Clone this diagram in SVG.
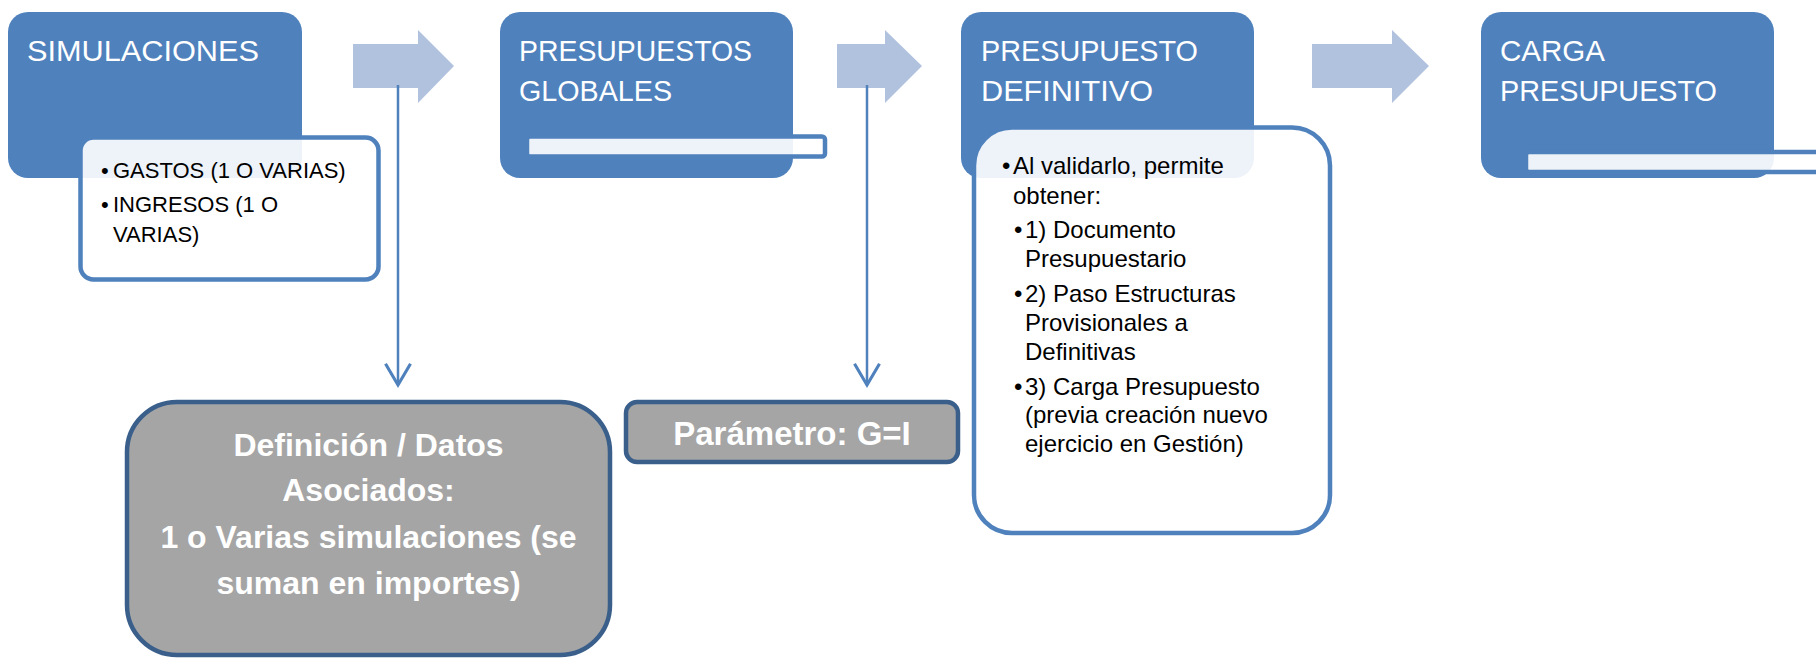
<svg xmlns="http://www.w3.org/2000/svg" width="1816" height="659" viewBox="0 0 1816 659">
  <style>
    .stage { fill: #4f81bd; }
    .title { font-family: "Liberation Sans", Arial, sans-serif; font-size: 30px; fill: #ffffff; }
    .sub { fill: #ffffff; fill-opacity: 0.9; stroke: #4f81bd; stroke-width: 4.5; }
    .txt { font-family: "Liberation Sans", Arial, sans-serif; fill: #000000; }
    .flow { fill: #b0c2de; }
    .gray { fill: #a5a5a5; stroke: #3a5f8b; stroke-width: 4.5; }
    .btxt { font-family: "Liberation Sans", Arial, sans-serif; font-weight: bold; fill: #ffffff; text-anchor: middle; }
    .conn { stroke: #4f81bd; stroke-width: 2.5; fill: none; }
  </style>
  <defs>
    <marker id="vhead" markerUnits="userSpaceOnUse" markerWidth="30" markerHeight="30" viewBox="-20 -12 22 24" refX="0" refY="0" orient="auto">
      <path d="M-17,-10 L0,0 L-17,10" fill="none" stroke="#4f81bd" stroke-width="2.5"/>
    </marker>
  </defs>
  <rect width="1816" height="659" fill="#ffffff"/>

  <g id="flow-arrows">
    <path class="flow" d="M353,44 H418 V30 L454,66 L418,103 V88 H353 Z"/>
    <path class="flow" d="M837,44 H885 V30 L922,66 L885,103 V88 H837 Z"/>
    <path class="flow" d="M1312,44 H1392 V30 L1429,66 L1392,103 V88 H1312 Z"/>
  </g>

  <g id="node-simulaciones">
    <rect class="stage" x="8" y="12" width="294" height="166" rx="20"/>
    <text class="title" x="27" y="61" textLength="232" lengthAdjust="spacingAndGlyphs">SIMULACIONES</text>
    <rect class="sub" x="80.5" y="137.5" width="298" height="142" rx="13"/>
    <g class="txt" font-size="22">
      <text x="101" y="178">•</text><text x="113" y="178">GASTOS (1 O VARIAS)</text>
      <text x="101" y="212">•</text><text x="113" y="212">INGRESOS (1 O</text>
      <text x="113" y="242">VARIAS)</text>
    </g>
  </g>

  <g id="node-presupuestos-globales">
    <rect class="stage" x="500" y="12" width="293" height="166" rx="20"/>
    <text class="title" x="519" y="61" textLength="233" lengthAdjust="spacingAndGlyphs">PRESUPUESTOS</text>
    <text class="title" x="519" y="101" textLength="153" lengthAdjust="spacingAndGlyphs">GLOBALES</text>
    <rect class="sub" x="527" y="136.5" width="298" height="20" rx="3"/>
  </g>

  <g id="node-presupuesto-definitivo">
    <rect class="stage" x="961" y="12" width="293" height="166" rx="20"/>
    <text class="title" x="981" y="61" textLength="217" lengthAdjust="spacingAndGlyphs">PRESUPUESTO</text>
    <text class="title" x="981" y="101" textLength="172" lengthAdjust="spacingAndGlyphs">DEFINITIVO</text>
    <rect class="sub" x="974" y="127.5" width="356" height="405.5" rx="38"/>
    <g class="txt" font-size="24">
      <text x="1002" y="174">•</text><text x="1013" y="174">Al validarlo, permite</text>
      <text x="1013" y="204">obtener:</text>
      <text x="1014" y="238">•</text><text x="1025" y="238">1) Documento</text>
      <text x="1025" y="267">Presupuestario</text>
      <text x="1014" y="302">•</text><text x="1025" y="302">2) Paso Estructuras</text>
      <text x="1025" y="331">Provisionales a</text>
      <text x="1025" y="360">Definitivas</text>
      <text x="1014" y="395">•</text><text x="1025" y="395">3) Carga Presupuesto</text>
      <text x="1025" y="423">(previa creación nuevo</text>
      <text x="1025" y="452">ejercicio en Gestión)</text>
    </g>
  </g>

  <g id="node-carga-presupuesto">
    <rect class="stage" x="1481" y="12" width="293" height="166" rx="20"/>
    <text class="title" x="1500" y="61" textLength="105" lengthAdjust="spacingAndGlyphs">CARGA</text>
    <text class="title" x="1500" y="101" textLength="217" lengthAdjust="spacingAndGlyphs">PRESUPUESTO</text>
    <rect class="sub" x="1526" y="152" width="400" height="20" rx="3"/>
  </g>

  <g id="connectors">
    <line class="conn" x1="398" y1="85" x2="398" y2="385" marker-end="url(#vhead)"/>
    <line class="conn" x1="867" y1="85" x2="867" y2="385" marker-end="url(#vhead)"/>
  </g>

  <g id="node-definicion">
    <rect class="gray" x="127" y="402" width="483" height="253" rx="50"/>
    <g class="btxt" font-size="32">
      <text x="368.5" y="456">Definición / Datos</text>
      <text x="368.5" y="501">Asociados:</text>
      <text x="368.5" y="548">1 o Varias simulaciones (se</text>
      <text x="368.5" y="594">suman en importes)</text>
    </g>
  </g>

  <g id="node-parametro">
    <rect class="gray" x="626" y="402" width="332" height="60" rx="11"/>
    <text class="btxt" font-size="33" x="792" y="445">Parámetro: G=I</text>
  </g>
</svg>
